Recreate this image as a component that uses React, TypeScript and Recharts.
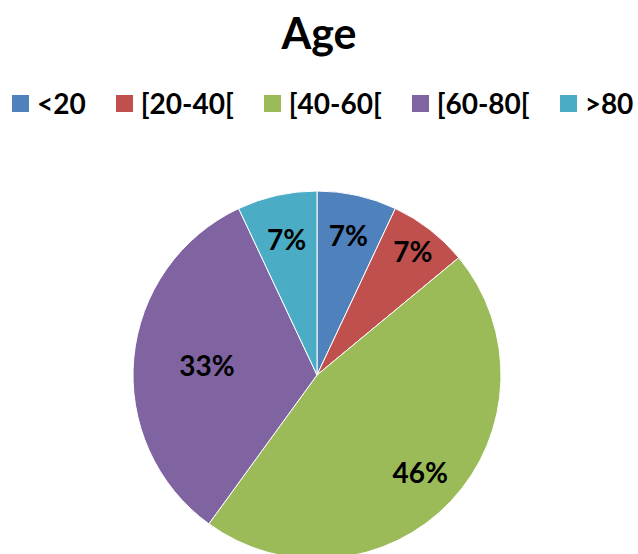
import { PieChart, Pie, Cell } from "recharts";

// age brackets and their share of respondents (%)
const categories = ["<20", "[20-40[", "[40-60[", "[60-80[", ">80"];
const shares = [7, 7, 46, 33, 7];
const COLORS = ["#4F81BD", "#C0504D", "#9BBB59", "#8064A2", "#4BACC6"];

// how far out each percentage label sits, as a fraction of the radius
const LABEL_POS = [0.78, 0.85, 0.77, 0.6, 0.76];

const FONT = "Lato, 'Open Sans', sans-serif";

const data = categories.map((name, i) => ({ name, value: shares[i] }));

const RADIAN = Math.PI / 180;

const renderLabel = (props: any) => {
    const { cx, cy, midAngle, outerRadius, index, value } = props;
    const r = outerRadius * LABEL_POS[index];
    const x = cx + r * Math.cos(-midAngle * RADIAN);
    const y = cy + r * Math.sin(-midAngle * RADIAN);
    return (
        <text
            x={x}
            y={y}
            fill="#000"
            textAnchor="middle"
            dominantBaseline="central"
            fontFamily={FONT}
            fontWeight={700}
            fontSize={28}
        >
            {`${value}%`}
        </text>
    );
};

const LegendRow = () => (
    <div
        style={{
            position: "absolute",
            top: 86,
            left: 12,
            display: "flex",
            gap: 30,
            fontFamily: FONT,
            fontWeight: 700,
            fontSize: 28,
            lineHeight: "34px",
            color: "#000",
            whiteSpace: "nowrap",
        }}
    >
        {categories.map((c, i) => (
            <div key={c} style={{ display: "flex", alignItems: "center" }}>
                <span
                    style={{
                        display: "inline-block",
                        width: 17,
                        height: 17,
                        background: COLORS[i],
                        marginRight: 8,
                    }}
                />
                <span>{c}</span>
            </div>
        ))}
    </div>
);

export default function App() {
    return (
        <div
            style={{
                position: "absolute",
                left: 0,
                top: 0,
                width: 638,
                height: 554,
                overflow: "hidden",
                background: "#fff",
            }}
        >
            <PieChart
                width={638}
                height={554}
                margin={{ top: 0, right: 0, bottom: 0, left: 0 }}
            >
                <Pie
                    data={data}
                    dataKey="value"
                    cx={317}
                    cy={375}
                    outerRadius={184}
                    startAngle={90}
                    endAngle={-270}
                    stroke="#ffffff"
                    strokeWidth={1}
                    label={renderLabel}
                    labelLine={false}
                    isAnimationActive={false}
                >
                    {data.map((_, i) => (
                        <Cell key={i} fill={COLORS[i]} />
                    ))}
                </Pie>
            </PieChart>
            <div
                style={{
                    position: "absolute",
                    top: 7,
                    width: 638,
                    textAlign: "center",
                    fontFamily: FONT,
                    fontWeight: 700,
                    fontSize: 43,
                    color: "#000",
                }}
            >
                Age
            </div>
            <LegendRow />
        </div>
    );
}
